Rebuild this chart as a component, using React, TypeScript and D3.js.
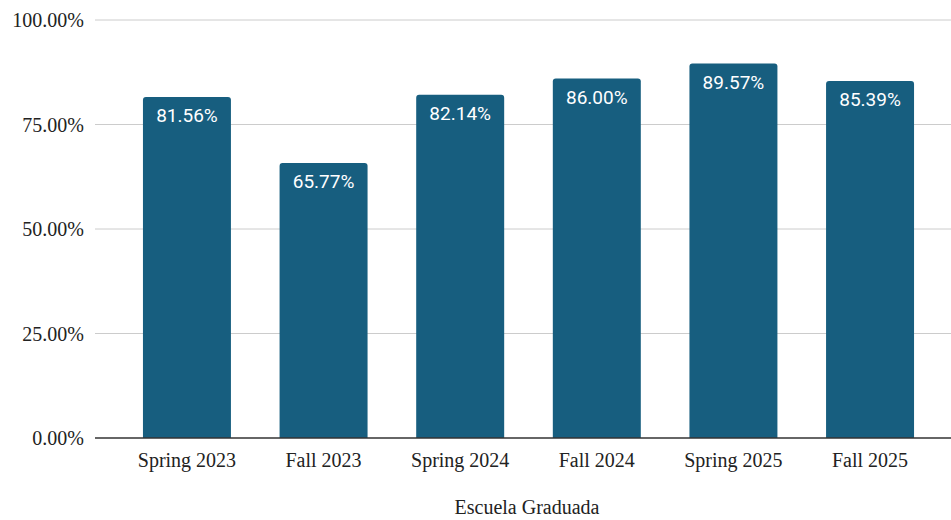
import { useEffect, useRef } from "react";
import * as d3 from "d3";

const TERMS = ["Spring 2023", "Fall 2023", "Spring 2024", "Fall 2024", "Spring 2025", "Fall 2025"];
const RATES = [81.56, 65.77, 82.14, 86.0, 89.57, 85.39];
const Y_TICKS = [0, 25, 50, 75, 100];
const X_TITLE = "Escuela Graduada";

const W = 951;
const H = 520;

export default function App() {
  const svgRef = useRef<SVGSVGElement>(null);

  useEffect(() => {
    document.body.style.margin = "0";
    const svg = d3.select(svgRef.current);
    svg.selectAll("*").remove();

    const left = 95;
    const top = 20;
    const bottom = 438;
    const serif = "'Liberation Serif', 'Times New Roman', serif";

    const x = d3
      .scaleBand<string>()
      .domain(TERMS)
      .range([left, 962])
      .paddingInner(0.356)
      .paddingOuter(0.351);
    const y = d3.scaleLinear().domain([0, 100]).range([bottom, top]);

    // grid
    svg
      .append("g")
      .selectAll("line")
      .data(Y_TICKS.filter((t) => t > 0))
      .join("line")
      .attr("x1", left)
      .attr("x2", W)
      .attr("y1", (d) => y(d))
      .attr("y2", (d) => y(d))
      .attr("stroke", "#cccccc")
      .attr("stroke-width", 1);

    svg
      .append("g")
      .selectAll("text")
      .data(Y_TICKS)
      .join("text")
      .attr("x", 84)
      .attr("y", (d) => y(d) + 7)
      .attr("text-anchor", "end")
      .attr("font-family", serif)
      .attr("font-size", 20)
      .attr("fill", "#222")
      .text((d) => d3.format(".2f")(d) + "%");

    // bars, rounded on top only
    const r = 3;
    const bw = x.bandwidth();
    svg
      .append("g")
      .selectAll("path")
      .data(TERMS)
      .join("path")
      .attr("fill", "#175e7f")
      .attr("d", (d, i) => {
        const x0 = x(d)!;
        const yt = y(RATES[i]);
        return `M${x0},${bottom}V${yt + r}Q${x0},${yt} ${x0 + r},${yt}H${x0 + bw - r}Q${x0 + bw},${yt} ${x0 + bw},${yt + r}V${bottom}Z`;
      });

    svg
      .append("g")
      .selectAll("text")
      .data(TERMS)
      .join("text")
      .attr("x", (d) => x(d)! + bw / 2)
      .attr("y", (d, i) => y(RATES[i]) + 25)
      .attr("text-anchor", "middle")
      .attr("font-family", "Roboto, sans-serif")
      .attr("font-size", 19)
      .attr("fill", "#ffffff")
      .text((d, i) => d3.format(".2f")(RATES[i]) + "%");

    // baseline
    svg
      .append("line")
      .attr("x1", left)
      .attr("x2", W)
      .attr("y1", bottom)
      .attr("y2", bottom)
      .attr("stroke", "#333")
      .attr("stroke-width", 1.5);

    svg
      .append("g")
      .selectAll("text")
      .data(TERMS)
      .join("text")
      .attr("x", (d) => x(d)! + bw / 2)
      .attr("y", 467)
      .attr("text-anchor", "middle")
      .attr("font-family", serif)
      .attr("font-size", 20)
      .attr("fill", "#222")
      .text((d) => d);

    svg
      .append("text")
      .attr("x", 527)
      .attr("y", 514)
      .attr("text-anchor", "middle")
      .attr("font-family", serif)
      .attr("font-size", 20)
      .attr("fill", "#222")
      .text(X_TITLE);
  }, []);

  return (
    <svg
      ref={svgRef}
      width={W}
      height={H}
      style={{ display: "block", background: "#fff" }}
    />
  );
}
